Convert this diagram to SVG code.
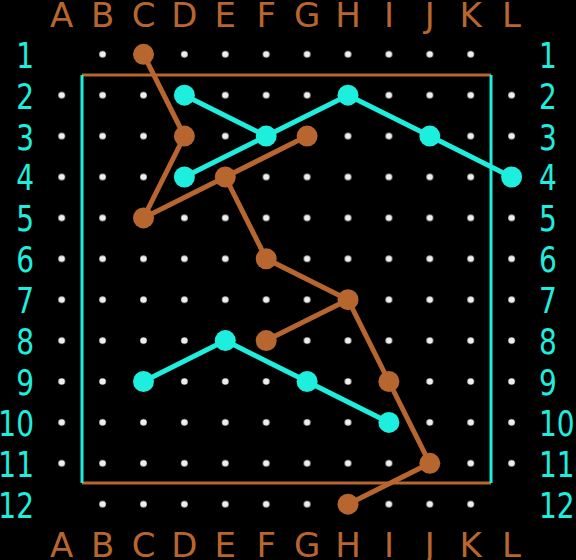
<svg xmlns="http://www.w3.org/2000/svg" width="576" height="560" viewBox="0 0 576 560">
<style>
.bg{fill:#000}
.let{font-family:"DejaVu Sans","Liberation Sans",sans-serif;font-size:34px;fill:#b8662f;text-anchor:middle}
.num{font-family:"DejaVu Sans","Liberation Sans",sans-serif;font-size:35px;fill:#1eeede}
.numL{text-anchor:end}
.numR{text-anchor:start}
.dot{fill:#eeeeee}
.or{stroke:#b8662f;stroke-width:5;fill:none;stroke-linecap:round}
.cy{stroke:#1eeede;stroke-width:5;fill:none;stroke-linecap:round}
.bor{stroke:#b8662f;stroke-width:3;fill:none}
.bcy{stroke:#1eeede;stroke-width:3;fill:none}
.no{fill:#b8662f}
.nc{fill:#1eeede}
</style>
<defs>
<pattern id="dots" patternUnits="userSpaceOnUse" x="41.25" y="74.75" width="40.9" height="40.9">
<circle class="dot" cx="20.45" cy="20.45" r="3.3"/>
</pattern>
</defs>
<rect class="bg" x="0" y="0" width="576" height="560"/>
<g id="grid-dots">
<rect x="82.15" y="33.85" width="409" height="40.9" fill="url(#dots)"/>
<rect x="41.25" y="74.75" width="490.8" height="409" fill="url(#dots)"/>
<rect x="82.15" y="483.75" width="409" height="40.9" fill="url(#dots)"/>
</g>
<g id="labels-top">
<text class="let" x="61.7" y="27">A</text>
<text class="let" x="102.6" y="27">B</text>
<text class="let" x="143.5" y="27">C</text>
<text class="let" x="184.4" y="27">D</text>
<text class="let" x="225.3" y="27">E</text>
<text class="let" x="266.2" y="27">F</text>
<text class="let" x="307.1" y="27">G</text>
<text class="let" x="348" y="27">H</text>
<text class="let" x="388.9" y="27">I</text>
<text class="let" x="429.8" y="27">J</text>
<text class="let" x="470.7" y="27">K</text>
<text class="let" x="511.6" y="27">L</text>
</g>
<g id="labels-bottom">
<text class="let" x="61.7" y="557">A</text>
<text class="let" x="102.6" y="557">B</text>
<text class="let" x="143.5" y="557">C</text>
<text class="let" x="184.4" y="557">D</text>
<text class="let" x="225.3" y="557">E</text>
<text class="let" x="266.2" y="557">F</text>
<text class="let" x="307.1" y="557">G</text>
<text class="let" x="348" y="557">H</text>
<text class="let" x="388.9" y="557">I</text>
<text class="let" x="429.8" y="557">J</text>
<text class="let" x="470.7" y="557">K</text>
<text class="let" x="511.6" y="557">L</text>
</g>
<g id="labels-left" transform="translate(34,0) scale(0.8,1)">
<text class="num numL" x="0" y="67.8">1</text>
<text class="num numL" x="0" y="108.7">2</text>
<text class="num numL" x="0" y="149.6">3</text>
<text class="num numL" x="0" y="190.5">4</text>
<text class="num numL" x="0" y="231.4">5</text>
<text class="num numL" x="0" y="272.3">6</text>
<text class="num numL" x="0" y="313.2">7</text>
<text class="num numL" x="0" y="354.1">8</text>
<text class="num numL" x="0" y="395">9</text>
<text class="num numL" x="0" y="435.9">10</text>
<text class="num numL" x="0" y="476.8">11</text>
<text class="num numL" x="0" y="517.7">12</text>
</g>
<g id="labels-right" transform="translate(539,0) scale(0.8,1)">
<text class="num numR" x="0" y="67.8">1</text>
<text class="num numR" x="0" y="108.7">2</text>
<text class="num numR" x="0" y="149.6">3</text>
<text class="num numR" x="0" y="190.5">4</text>
<text class="num numR" x="0" y="231.4">5</text>
<text class="num numR" x="0" y="272.3">6</text>
<text class="num numR" x="0" y="313.2">7</text>
<text class="num numR" x="0" y="354.1">8</text>
<text class="num numR" x="0" y="395">9</text>
<text class="num numR" x="0" y="435.9">10</text>
<text class="num numR" x="0" y="476.8">11</text>
<text class="num numR" x="0" y="517.7">12</text>
</g>
<g id="border">
<line class="bor" x1="82" y1="75" x2="491" y2="75"/>
<line class="bor" x1="82" y1="483" x2="491" y2="483"/>
<line class="bcy" x1="82" y1="75" x2="82" y2="483"/>
<line class="bcy" x1="491" y1="75" x2="491" y2="483"/>
</g>
<g id="connectors">
<polyline class="or" points="143.5,54.3 184.4,136.1 143.5,217.9 225.3,177 307.1,136.1"/>
<polyline class="or" points="225.3,177 266.2,258.8 348,299.7 266.2,340.6"/>
<polyline class="or" points="348,299.7 388.9,381.5 429.8,463.3 348,504.2"/>
<polyline class="cy" points="184.4,95.2 266.2,136.1"/>
<polyline class="cy" points="184.4,177 266.2,136.1 348,95.2 429.8,136.1 511.6,177"/>
<polyline class="cy" points="143.5,381.5 225.3,340.6 307.1,381.5 388.9,422.4"/>
</g>
<g id="n-C1"><circle class="no" cx="143.5" cy="54.3" r="10.5"/></g>
<g id="n-D3"><circle class="no" cx="184.4" cy="136.1" r="10.5"/></g>
<g id="n-C5"><circle class="no" cx="143.5" cy="217.9" r="10.5"/></g>
<g id="n-E4"><circle class="no" cx="225.3" cy="177" r="10.5"/></g>
<g id="n-G3"><circle class="no" cx="307.1" cy="136.1" r="10.5"/></g>
<g id="n-F6"><circle class="no" cx="266.2" cy="258.8" r="10.5"/></g>
<g id="n-H7"><circle class="no" cx="348" cy="299.7" r="10.5"/></g>
<g id="n-F8"><circle class="no" cx="266.2" cy="340.6" r="10.5"/></g>
<g id="n-I9"><circle class="no" cx="388.9" cy="381.5" r="10.5"/></g>
<g id="n-J11"><circle class="no" cx="429.8" cy="463.3" r="10.5"/></g>
<g id="n-H12"><circle class="no" cx="348" cy="504.2" r="10.5"/></g>
<g id="n-D2"><circle class="nc" cx="184.4" cy="95.2" r="10.5"/></g>
<g id="n-F3"><circle class="nc" cx="266.2" cy="136.1" r="10.5"/></g>
<g id="n-H2"><circle class="nc" cx="348" cy="95.2" r="10.5"/></g>
<g id="n-J3"><circle class="nc" cx="429.8" cy="136.1" r="10.5"/></g>
<g id="n-L4"><circle class="nc" cx="511.6" cy="177" r="10.5"/></g>
<g id="n-D4"><circle class="nc" cx="184.4" cy="177" r="10.5"/></g>
<g id="n-C9"><circle class="nc" cx="143.5" cy="381.5" r="10.5"/></g>
<g id="n-E8"><circle class="nc" cx="225.3" cy="340.6" r="10.5"/></g>
<g id="n-G9"><circle class="nc" cx="307.1" cy="381.5" r="10.5"/></g>
<g id="n-I10"><circle class="nc" cx="388.9" cy="422.4" r="10.5"/></g>
</svg>
